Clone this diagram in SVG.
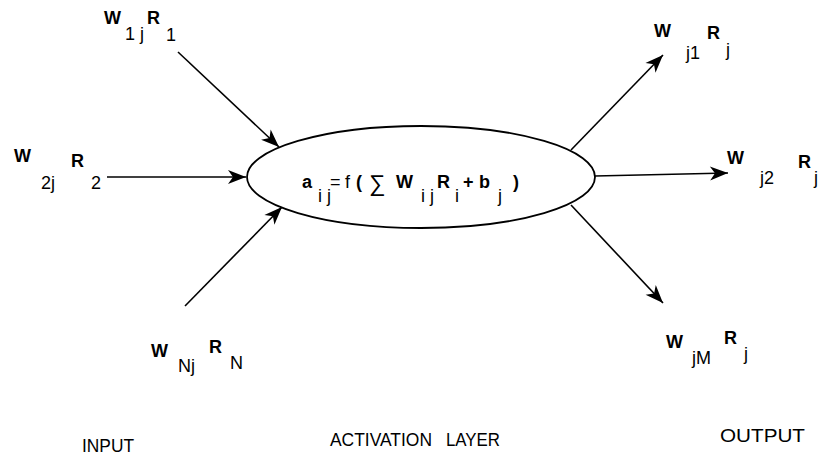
<svg xmlns="http://www.w3.org/2000/svg" width="822" height="456" viewBox="0 0 822 456">
  <style>
    text { font-family: "Liberation Sans", Arial, sans-serif; font-size: 18px; fill: #000; }
    .b { font-weight: bold; }
    .cap { font-size: 19px; }
    .edge { stroke: #000; stroke-width: 1.6; fill: none; marker-end: url(#head); }
  </style>
  <defs>
    <marker id="head" markerUnits="userSpaceOnUse" markerWidth="24" markerHeight="18" viewBox="-20 -9 22 18" refX="0" refY="0" orient="auto">
      <path d="M0,0 L-18,-7 L-13,0 L-18,7 Z" fill="#000"/>
    </marker>
  </defs>
  <rect width="822" height="456" fill="#fff"/>

  <!-- connectors -->
  <g id="connectors">
    <line class="edge" x1="178" y1="52" x2="279" y2="147"/>
    <line class="edge" x1="107" y1="177" x2="246" y2="177"/>
    <line class="edge" x1="185" y1="306" x2="282" y2="207"/>
    <line class="edge" x1="571" y1="150" x2="663" y2="55"/>
    <line class="edge" x1="595" y1="176" x2="728" y2="173"/>
    <line class="edge" x1="571" y1="205" x2="663" y2="303"/>
  </g>

  <!-- activation node -->
  <g id="activation">
    <ellipse cx="421" cy="177" rx="174" ry="51" fill="#fff" stroke="#000" stroke-width="1.8"/>
    <text class="b" x="302" y="188">a</text>
    <text x="318" y="202">i j</text>
    <text x="330" y="188">=</text>
    <text x="345" y="188">f</text>
    <text class="b" x="356" y="188">(</text>
    <text x="369" y="191" style="font-size:23px">∑</text>
    <text class="b" x="396" y="188">W</text>
    <text x="421" y="202">i j</text>
    <text class="b" x="437" y="188">R</text>
    <text x="455" y="202">i</text>
    <text class="b" x="463" y="188">+</text>
    <text class="b" x="479" y="188">b</text>
    <text x="498" y="202">j</text>
    <text class="b" x="513" y="188">)</text>
  </g>

  <!-- inputs -->
  <g id="input-1">
    <text class="b" x="104" y="24">W</text>
    <text x="125" y="40">1 j</text>
    <text class="b" x="147" y="24">R</text>
    <text x="166" y="41">1</text>
  </g>
  <g id="input-2">
    <text class="b" x="14" y="162">W</text>
    <text x="41" y="189">2j</text>
    <text class="b" x="71" y="167">R</text>
    <text x="91" y="189">2</text>
  </g>
  <g id="input-n">
    <text class="b" x="151" y="357">W</text>
    <text x="178" y="372">Nj</text>
    <text class="b" x="209" y="353">R</text>
    <text x="230" y="369">N</text>
  </g>

  <!-- outputs -->
  <g id="output-1">
    <text class="b" x="654" y="37">W</text>
    <text x="686" y="59">j1</text>
    <text class="b" x="707" y="39">R</text>
    <text x="726" y="56">j</text>
  </g>
  <g id="output-2">
    <text class="b" x="727" y="164">W</text>
    <text x="760" y="184">j2</text>
    <text class="b" x="798" y="168">R</text>
    <text x="814" y="184">j</text>
  </g>
  <g id="output-m">
    <text class="b" x="666" y="348">W</text>
    <text x="692" y="364">jM</text>
    <text class="b" x="724" y="344">R</text>
    <text x="744" y="360">j</text>
  </g>

  <!-- layer captions -->
  <g id="captions">
    <text class="cap" x="82" y="452" textLength="52" lengthAdjust="spacingAndGlyphs">INPUT</text>
    <text class="cap" x="330" y="446" textLength="102" lengthAdjust="spacingAndGlyphs">ACTIVATION</text>
    <text class="cap" x="446" y="446" textLength="54" lengthAdjust="spacingAndGlyphs">LAYER</text>
    <text class="cap" x="720" y="442" textLength="85" lengthAdjust="spacingAndGlyphs">OUTPUT</text>
  </g>
</svg>
